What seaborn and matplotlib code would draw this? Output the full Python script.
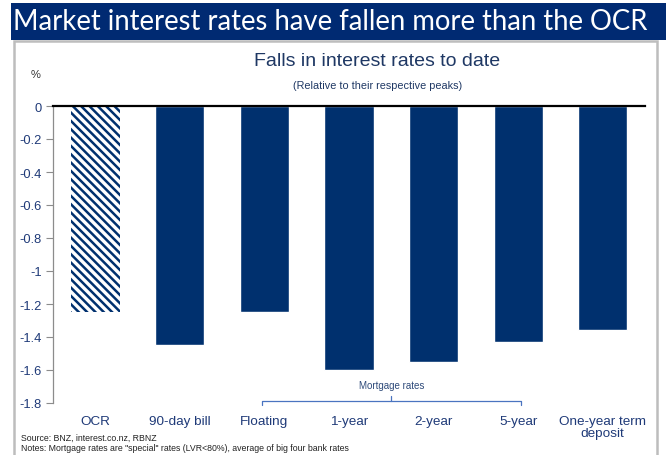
import matplotlib
matplotlib.use('Agg')
import matplotlib.pyplot as plt
from matplotlib.patches import Rectangle
from matplotlib.ticker import FuncFormatter
import pandas as pd
import seaborn as sns

# Falls in rates relative to their respective peaks (%)
categories = ['OCR', '90-day bill', 'Floating', '1-year', '2-year', '5-year', 'One-year term\ndeposit']
falls = [-1.25, -1.45, -1.25, -1.60, -1.55, -1.43, -1.36]
y_ticks = [0, -0.2, -0.4, -0.6, -0.8, -1.0, -1.2, -1.4, -1.6, -1.8]

navy = '#00306e'
label_col = '#1f3a78'

sns.set_theme(style='white')
plt.rcParams['font.family'] = ['Liberation Sans', 'DejaVu Sans']
plt.rcParams['axes.unicode_minus'] = False
plt.rcParams['hatch.linewidth'] = 1.8

df = pd.DataFrame({'Rate': categories, 'Fall': falls})

fig = plt.figure(figsize=(6.66, 4.56), dpi=100)

# banner + frame
fig.patches.append(Rectangle((11 / 666, 1 - 41 / 456), 1, 37 / 456, transform=fig.transFigure,
                             facecolor='#002a72', edgecolor='none', zorder=-2))
fig.patches.append(Rectangle((14.5 / 666, -0.01), (657 - 14.5) / 666, 1 - 42 / 456 + 0.01,
                             transform=fig.transFigure, facecolor='white', edgecolor='#bdbdbd',
                             linewidth=1.8, zorder=-1))
fig.text(13 / 666, 1 - 22.5 / 456, 'Market interest rates have fallen more than the OCR',
         color='white', fontsize=19.8, va='center', ha='left', family=['Lato', 'DejaVu Sans'])

ax = fig.add_axes([53 / 666, 1 - 404 / 456, (645 - 53) / 666, (404 - 107) / 456])
ax.set_facecolor('none')
ax.set_zorder(2)

sns.barplot(data=df, x='Rate', y='Fall', color=navy, saturation=1, width=0.58, ax=ax)

# OCR bar is hatched
ocr = ax.patches[0]
ocr.set_facecolor('white')
ocr.set_edgecolor(navy)
ocr.set_hatch('\\\\\\\\')
ocr.set_linewidth(0)

ax.set_ylim(-1.8, 0)
ax.set_xlim(-0.5, len(categories) - 0.5)
ax.set_yticks(y_ticks)
ax.yaxis.set_major_formatter(FuncFormatter(lambda v, p: '%g' % v))
ax.set_xlabel('')
ax.set_ylabel('')

for s in ['right', 'bottom']:
    ax.spines[s].set_visible(False)
ax.spines['left'].set_color('#8c8c8c')
ax.spines['left'].set_linewidth(0.9)
ax.spines['top'].set_color('black')
ax.spines['top'].set_linewidth(1.6)

ax.tick_params(axis='y', left=True, length=5, width=0.8, color='#8c8c8c',
               labelsize=9.3, labelcolor=label_col, pad=3)
ax.tick_params(axis='x', bottom=False, labelsize=9.7, labelcolor=label_col, pad=3)
for t in ax.get_xticklabels():
    t.set_linespacing(1.0)

# mortgage rates bracket
br = '#4a74c0'
ax.plot([1.97, 1.97, 5.03, 5.03], [-1.812, -1.788, -1.788, -1.812], color=br, lw=0.9, clip_on=False)
ax.plot([3.5, 3.5], [-1.788, -1.76], color=br, lw=0.9, clip_on=False)
ax.text(3.5, -1.69, 'Mortgage rates', ha='center', va='center', fontsize=7, color='#2e4a7a')

# titles
fig.text(377 / 666, 1 - 62 / 456, 'Falls in interest rates to date', ha='center', va='center',
         fontsize=14, color='#1f3864')
fig.text(378 / 666, 1 - 86 / 456, '(Relative to their respective peaks)', ha='center', va='center',
         fontsize=7.8, color='#1f3864')
fig.text(36 / 666, 1 - 75 / 456, '%', ha='center', va='center', fontsize=8, color='#333333')

fig.text(21 / 666, 1 - 438 / 456, 'Source: BNZ, interest.co.nz, RBNZ', ha='left', va='center',
         fontsize=6.3, color='#222222')
fig.text(21 / 666, 1 - 449 / 456,
         'Notes: Mortgage rates are "special" rates (LVR<80%), average of big four bank rates',
         ha='left', va='center', fontsize=6.3, color='#222222')

fig.savefig('out.png', dpi=100)
